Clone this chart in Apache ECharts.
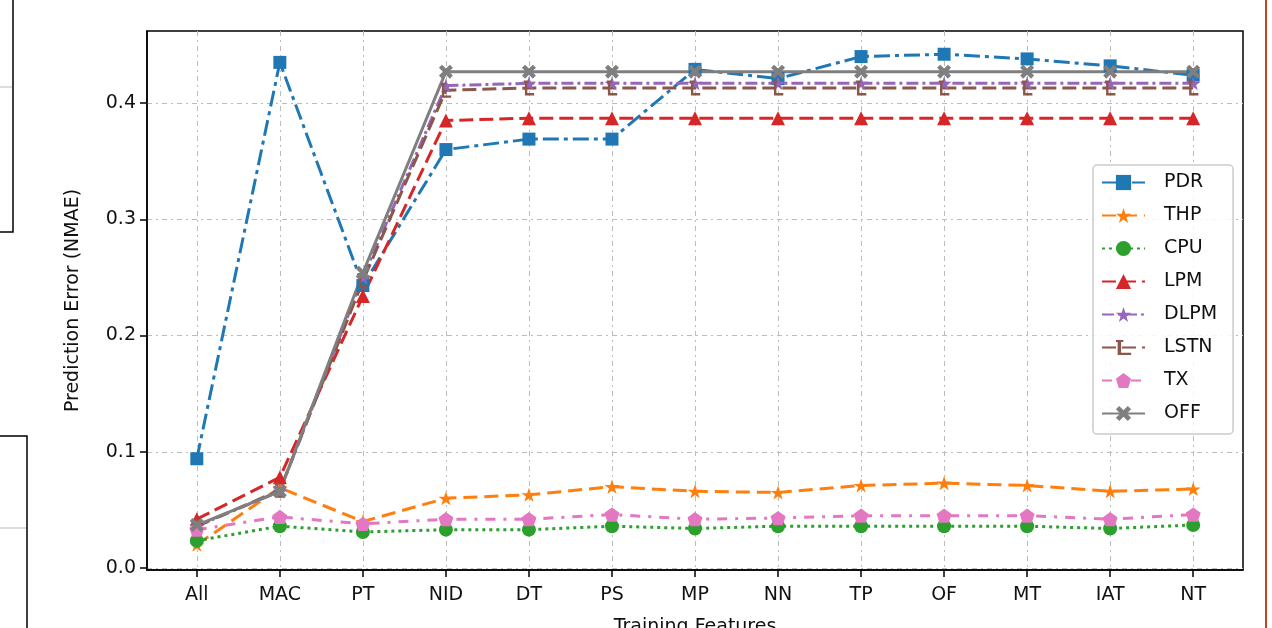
<!DOCTYPE html>
<html>
<head>
<meta charset="utf-8">
<script src="https://cdn.jsdelivr.net/npm/echarts@6/dist/echarts.min.js"></script>
<style>
html,body{margin:0;padding:0;background:#fff;}
#chart{width:1272px;height:628px;}
</style>
</head>
<body>
<div id="chart"></div>
<script>
const categories = ['All','MAC','PT','NID','DT','PS','MP','NN','TP','OF','MT','IAT','NT'];
const yTicks = [0, 0.1, 0.2, 0.3, 0.4];
const PDR  = [0.094, 0.435, 0.243, 0.360, 0.369, 0.369, 0.429, 0.421, 0.440, 0.442, 0.438, 0.432, 0.424];
const THP  = [0.020, 0.069, 0.040, 0.060, 0.063, 0.070, 0.066, 0.065, 0.071, 0.073, 0.071, 0.066, 0.068];
const CPU  = [0.0235, 0.036, 0.031, 0.033, 0.033, 0.036, 0.034, 0.036, 0.036, 0.036, 0.036, 0.034, 0.037];
const LPM  = [0.042, 0.078, 0.234, 0.385, 0.387, 0.387, 0.387, 0.387, 0.387, 0.387, 0.387, 0.387, 0.387];
const DLPM = [0.036, 0.066, 0.250, 0.415, 0.417, 0.417, 0.417, 0.417, 0.417, 0.417, 0.417, 0.417, 0.417];
const LSTN = [0.036, 0.067, 0.247, 0.411, 0.413, 0.413, 0.413, 0.413, 0.413, 0.413, 0.413, 0.413, 0.413];
const TX   = [0.033, 0.044, 0.038, 0.042, 0.042, 0.046, 0.042, 0.043, 0.045, 0.045, 0.045, 0.042, 0.046];
const OFF  = [0.037, 0.066, 0.254, 0.427, 0.427, 0.427, 0.427, 0.427, 0.427, 0.427, 0.427, 0.427, 0.427];

const STAR = 'path://M50,0 L61.8,35.1 L98.1,35.1 L68.8,56.7 L79.4,90.5 L50,69.5 L20.6,90.5 L31.2,56.7 L1.9,35.1 L38.2,35.1 Z';
const PENT = 'path://M50,0 L97.6,34.5 L79.4,90.5 L20.6,90.5 L2.4,34.5 Z';
const XMARK = 'path://M22,0 L50,28 L78,0 L100,22 L72,50 L100,78 L78,100 L50,72 L22,100 L0,78 L28,50 L0,22 Z';
const LMARK = 'path://M22,0 L56,0 L56,14 L46,14 L46,84 L92,84 L92,100 L30,100 L30,14 L22,14 Z';

const FONT = 'DejaVu Sans';
function pts(arr){ return arr.map((v,i)=>[i,v]); }
function mk(name, data, color, type, symbol, size){
  return {
    name, type:'line', data:pts(data), symbol, symbolSize:size, symbolKeepAspect:true,
    showAllSymbol:true,
    lineStyle:{color, width:3, type, cap:'butt'},
    itemStyle:{color},
    emphasis:{disabled:true},
    animation:false
  };
}

const chart = echarts.init(document.getElementById('chart'), null, {renderer:'canvas'});
const gridLine = {show:true, lineStyle:{color:'#bcbcbc', width:1, type:[5,4,2,4]}};
chart.setOption({
  backgroundColor:'#fff',
  animation:false,
  textStyle:{fontFamily:FONT},
  grid:{left:147, right:29, top:31, bottom:58, show:true, borderColor:'#000', borderWidth:1.5, backgroundColor:'transparent', containLabel:false, outerBoundsMode:'none'},
  xAxis:{
    type:'value', min:-0.6, max:12.6,
    name:'Training Features', nameLocation:'middle', nameGap:48,
    nameTextStyle:{fontSize:19, color:'#111', fontFamily:FONT},
    axisLine:{show:true, onZero:false, lineStyle:{color:'#000', width:1.5}},
    axisTick:{show:true, length:7, lineStyle:{color:'#000', width:1.5}, customValues:categories.map((c,i)=>i)},
    axisLabel:{fontSize:19, color:'#111', margin:16, fontFamily:FONT, customValues:categories.map((c,i)=>i), formatter:(v)=>categories[Math.round(v)]},
    splitLine:gridLine
  },
  yAxis:{
    type:'value', min:-0.0017, max:0.462,
    name:'Prediction Error (NMAE)', nameLocation:'middle', nameGap:64, nameRotate:90,
    nameTextStyle:{fontSize:19, color:'#111', fontFamily:FONT},
    axisLine:{show:true, onZero:false, lineStyle:{color:'#000', width:1.5}},
    axisTick:{show:true, length:7, lineStyle:{color:'#000', width:1.5}, customValues:yTicks},
    axisLabel:{fontSize:19, color:'#111', margin:11, fontFamily:FONT, customValues:yTicks, formatter:(v)=>v.toFixed(1)},
    splitLine:gridLine
  },
  legend:{
    orient:'vertical', left:1093, top:165,
    padding:[8,16,11,8],
    itemWidth:43, itemHeight:19, itemGap:14,
    backgroundColor:'rgba(255,255,255,0.85)', borderColor:'#cccccc', borderWidth:1.5, borderRadius:4,
    textStyle:{fontSize:19, color:'#111', fontFamily:FONT, lineHeight:19, padding:[0,0,0,14]},
    data:['PDR','THP','CPU','LPM','DLPM','LSTN','TX','OFF']
  },
  series:[
    mk('PDR', PDR, '#1f77b4', [16,5,4,5], 'rect', 13),
    mk('THP', THP, '#ff7f0e', [14,7], STAR, 15),
    mk('CPU', CPU, '#2ca02c', [3,4], 'circle', 14),
    mk('LPM', LPM, '#d62728', [14,6], 'triangle', 14),
    mk('DLPM', DLPM, '#9467bd', [12,4,3,4], STAR, 15),
    mk('LSTN', LSTN, '#8c564b', [14,6], LMARK, 15),
    mk('TX', TX, '#e377c2', [10,8,3,8], PENT, 15),
    mk('OFF', OFF, '#7f7f7f', 'solid', XMARK, 14)
  ],
  graphic:[
    {type:'rect', shape:{x:-3, y:-3, width:16, height:235}, style:{fill:'none', stroke:'#000', lineWidth:1.5}, silent:true},
    {type:'line', shape:{x1:0, y1:87, x2:12, y2:87}, style:{stroke:'#bbbbbb', lineWidth:1}, silent:true},
    {type:'rect', shape:{x:-3, y:436, width:30, height:200}, style:{fill:'none', stroke:'#000', lineWidth:1.5}, silent:true},
    {type:'line', shape:{x1:0, y1:528, x2:26, y2:528}, style:{stroke:'#bbbbbb', lineWidth:1}, silent:true},
    {type:'line', shape:{x1:1266, y1:0, x2:1266, y2:628}, style:{stroke:'#c8401f', lineWidth:2}, silent:true}
  ]
});
</script>
</body>
</html>
